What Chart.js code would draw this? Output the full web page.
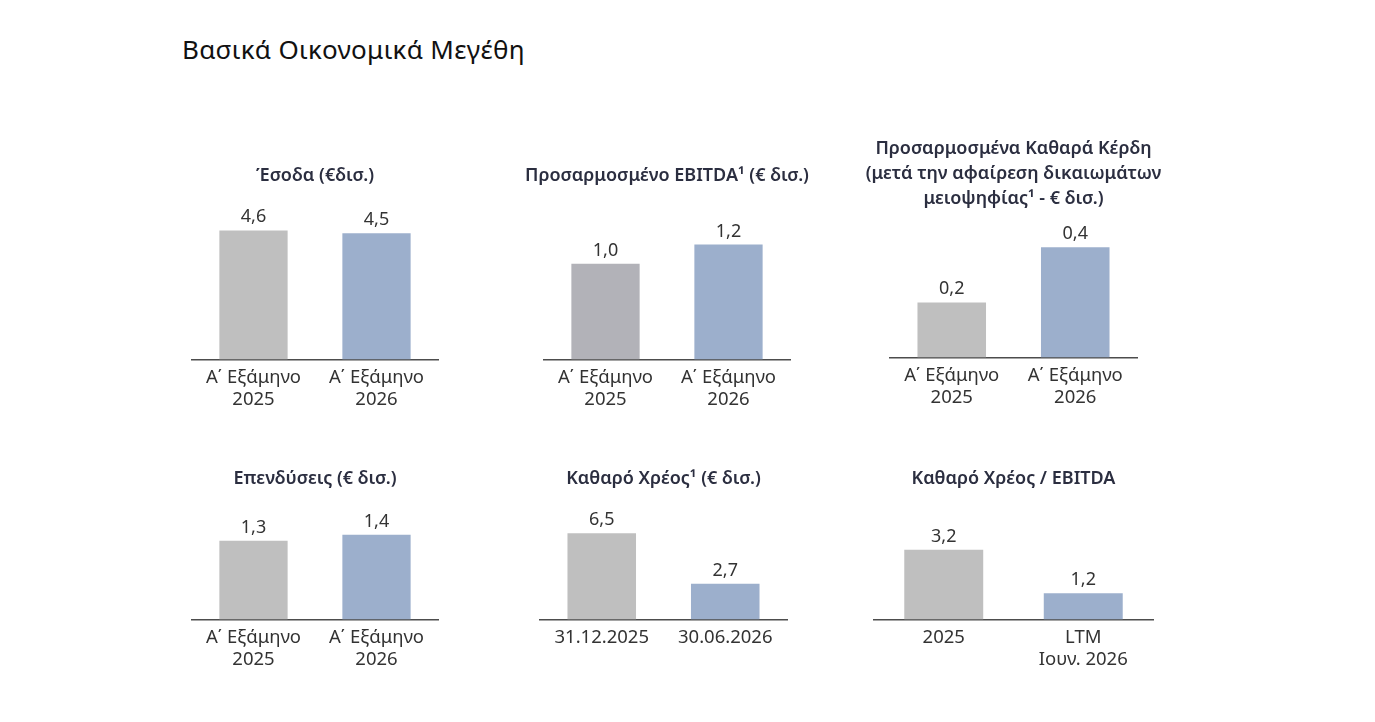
<!DOCTYPE html>
<html lang="el">
<head>
<meta charset="utf-8">
<title>Βασικά Οικονομικά Μεγέθη</title>
<script src="https://cdn.jsdelivr.net/npm/chart.js@4.4.1/dist/chart.umd.min.js"></script>
<style>
  html, body { margin: 0; padding: 0; background: #fff; }
  body { width: 1375px; height: 722px; position: relative; overflow: hidden; font-family: "Noto Sans", sans-serif; }
  h1 { position: absolute; left: 182px; top: 31px; margin: 0; font-size: 26px; font-weight: 400; color: #111; letter-spacing: 0.3px; }
  .box { position: absolute; }
</style>
</head>
<body>
<h1>Βασικά Οικονομικά Μεγέθη</h1>
<div class="box" id="b1"><canvas id="c1"></canvas></div>
<div class="box" id="b2"><canvas id="c2"></canvas></div>
<div class="box" id="b3"><canvas id="c3"></canvas></div>
<div class="box" id="b4"><canvas id="c4"></canvas></div>
<div class="box" id="b5"><canvas id="c5"></canvas></div>
<div class="box" id="b6"><canvas id="c6"></canvas></div>
<script>
// δεδομένα (€ δισ.)
const halfYearLabels = [["Α΄ Εξάμηνο", "2025"], ["Α΄ Εξάμηνο", "2026"]];
const netDebtLabels = ["31.12.2025", "30.06.2026"];
const leverageLabels = ["2025", ["LTM", "Ιουν. 2026"]];

const revenue = [4.6, 4.5];
const adjEbitda = [1.0, 1.2];
const adjNetProfit = [0.2, 0.4];
const capex = [1.3, 1.4];
const netDebt = [6.5, 2.7];
const netDebtToEbitda = [3.2, 1.2];

const titleRevenue = "Έσοδα (€δισ.)";
const titleEbitda = "Προσαρμοσμένο EBITDA¹ (€ δισ.)";
const titleProfit = ["Προσαρμοσμένα Καθαρά Κέρδη", "(μετά την αφαίρεση δικαιωμάτων", "μειοψηφίας¹ - € δισ.)"];
const titleCapex = "Επενδύσεις (€ δισ.)";
const titleNetDebt = "Καθαρό Χρέος¹ (€ δισ.)";
const titleLeverage = "Καθαρό Χρέος / EBITDA";

const GRAY = "#bfbfbf";
const GRAY2 = "#b2b2b8";
const BLUE = "#9cafcc";
const TEXT = "#333333";
const TITLE = "#2b2e40";

// ετικέτες τιμών πάνω από τις μπάρες
const valueLabels = {
  id: "valueLabels",
  afterDatasetsDraw(chart) {
    const c = chart.ctx;
    const meta = chart.getDatasetMeta(0);
    c.save();
    c.font = "18px 'Noto Sans', sans-serif";
    c.fillStyle = TEXT;
    c.textAlign = "center";
    c.textBaseline = "alphabetic";
    meta.data.forEach((bar, i) => {
      const v = chart.data.datasets[0].data[i];
      c.fillText(v.toFixed(1).replace(".", ","), bar.x, bar.y - 8);
    });
    c.restore();
  }
};

// κενός άξονας που κρατά μόνο πλάτος, ώστε ο τίτλος να μη στριμώχνεται
function spacer(position, pad, max) {
  return {
    position,
    display: true,
    min: 0,
    max,
    ticks: { display: false },
    grid: { display: false, drawTicks: false },
    border: { display: false },
    afterFit: (s) => { s.width = pad; },
  };
}

function makeChart(id, cfg) {
  const box = document.getElementById("b" + id);
  const pad = 55;
  box.style.left = (cfg.axisLeft - pad) + "px";
  box.style.width = (cfg.axisWidth + pad * 2) + "px";
  const lines = Array.isArray(cfg.title) ? cfg.title.length : 1;
  const xAxisH = 64;
  box.style.top = cfg.top + "px";
  box.style.height = (lines * 25 + cfg.titleGap + cfg.plotH + xAxisH) + "px";

  return new Chart(document.getElementById("c" + id), {
    type: "bar",
    data: {
      labels: cfg.labels,
      datasets: [{
        data: cfg.data,
        yAxisID: "y",
        backgroundColor: cfg.colors,
        barPercentage: cfg.barPct || 0.555,
        categoryPercentage: 1,
      }],
    },
    options: {
      responsive: true,
      maintainAspectRatio: false,
      animation: false,
      layout: { padding: 0 },
      plugins: {
        legend: { display: false },
        tooltip: { enabled: false },
        title: {
          display: true,
          text: cfg.title,
          color: TITLE,
          font: { family: "'Noto Sans', sans-serif", size: 18, weight: "600", lineHeight: "25px" },
          padding: { top: 0, bottom: cfg.titleGap },
        },
      },
      scales: {
        x: {
          grid: { display: false, drawTicks: false },
          border: { display: true, color: "#4d4d4d", width: 1.5 },
          ticks: { color: TEXT, padding: 8, font: { family: "'Noto Sans', sans-serif", size: 18.5, lineHeight: 1.15 } },
          afterFit: (s) => { s.height = xAxisH; },
        },
        y: spacer("left", pad, cfg.max),
        y2: spacer("right", pad, cfg.max),
      },
    },
    plugins: [valueLabels],
  });
}

makeChart(1, { axisLeft: 192, axisWidth: 246, top: 162.5, titleGap: 11.5, plotH: 160, max: 5.7,
  title: titleRevenue, labels: halfYearLabels, data: revenue, colors: [GRAY, BLUE] });
makeChart(2, { axisLeft: 544, axisWidth: 246, top: 162.5, titleGap: 11.5, plotH: 160, max: 1.67,
  title: titleEbitda, labels: halfYearLabels, data: adjEbitda, colors: [GRAY2, BLUE] });
makeChart(3, { axisLeft: 890, axisWidth: 247, top: 135.5, titleGap: 11.5, plotH: 135, max: 0.49,
  title: titleProfit, labels: halfYearLabels, data: adjNetProfit, colors: [GRAY, BLUE] });
makeChart(4, { axisLeft: 192, axisWidth: 246, top: 465.5, titleGap: 8.5, plotH: 120, max: 1.98,
  title: titleCapex, labels: halfYearLabels, data: capex, colors: [GRAY, BLUE] });
makeChart(5, { axisLeft: 540, axisWidth: 247, top: 465.5, titleGap: 8.5, plotH: 120, max: 9.05,
  title: titleNetDebt, labels: netDebtLabels, data: netDebt, colors: [GRAY, BLUE] });
makeChart(6, { axisLeft: 874, axisWidth: 279, top: 465.5, titleGap: 8.5, plotH: 120, max: 5.5, barPct: 0.566,
  title: titleLeverage, labels: leverageLabels, data: netDebtToEbitda, colors: [GRAY, BLUE] });
</script>
</body>
</html>
